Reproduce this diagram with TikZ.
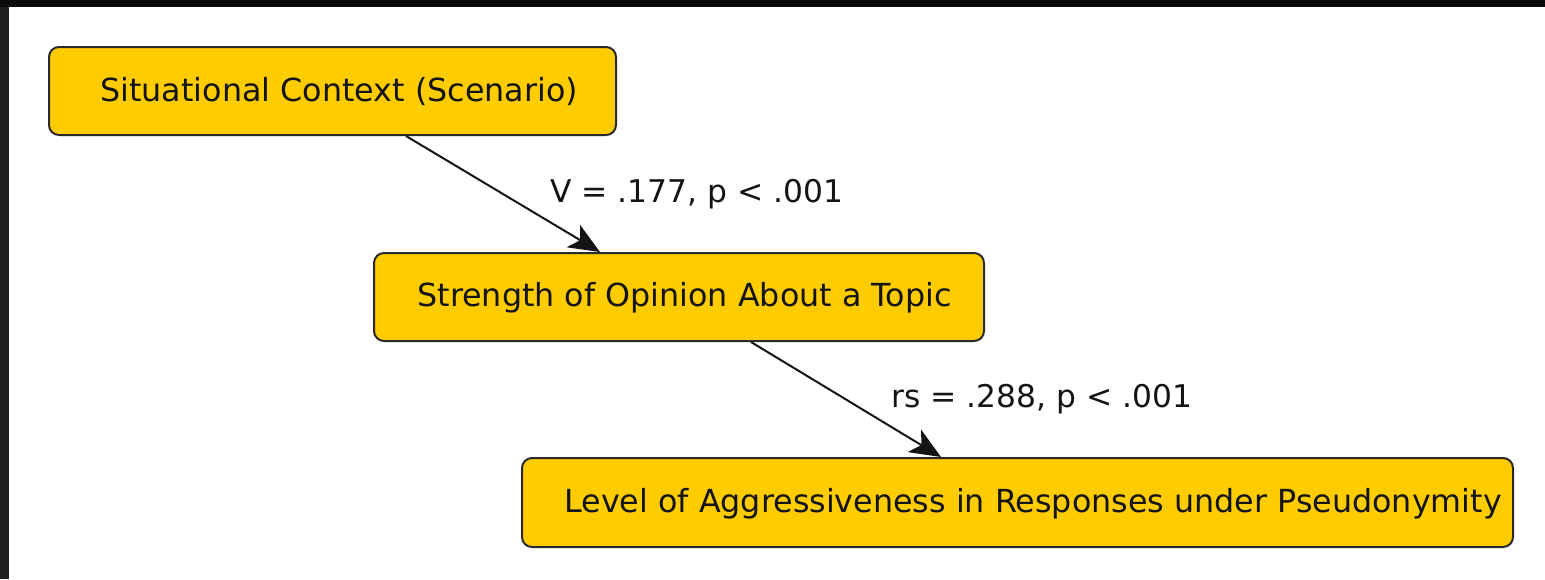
\documentclass[tikz,border=0pt]{standalone}
\usepackage{fontspec}
\setmainfont{DejaVu Sans}
\usetikzlibrary{arrows.meta,calc}
\definecolor{boxfill}{HTML}{FFCC00}
\definecolor{boxline}{HTML}{2A2A2A}
\definecolor{ink}{HTML}{141414}
\definecolor{topband}{HTML}{0A0A0A}
\definecolor{sideband}{HTML}{1E1E1E}
\begin{document}
\begin{tikzpicture}[x=0.5pt,y=-0.5pt,
  stagebox/.style={draw=boxline,line width=1pt,fill=boxfill,rounded corners=5pt,
    rectangle,inner sep=0pt,anchor=north west},
  boxtext/.style={inner sep=0pt,anchor=base west,text=ink,font=\fontsize{15.88pt}{18pt}\selectfont},
  linktext/.style={inner sep=0pt,anchor=base west,text=ink,font=\fontsize{15.65pt}{18pt}\selectfont},
  flow/.style={draw=ink,line width=1pt,-{Stealth[length=15.5pt,width=13pt,inset=4pt]}}
]
% canvas and dark frame edges
\useasboundingbox (0,0) rectangle (1545,579);
\fill[white] (0,0) rectangle (1545,579);
\fill[sideband] (0,0) rectangle (9,579);
\fill[topband] (0,0) rectangle (1545,7);

% stages
\node[stagebox,minimum width=283.5pt,minimum height=44pt] (b1) at (48,46) {};
\node[stagebox,minimum width=305pt,minimum height=44pt] (b2) at (373,252) {};
\node[stagebox,minimum width=495.5pt,minimum height=44.5pt] (b3) at (521,457) {};

\node[boxtext] (t1) at (100,101) {Situational Context (Scenario)};
\node[boxtext] (t2) at (417,306) {Strength of Opinion About a Topic};
\node[boxtext] (t3) at (564,512) {Level of Aggressiveness in Responses under Pseudonymity};

% links between stages
\draw[flow] ([xshift=179pt]b1.south west) -- ([xshift=113.5pt]b2.north west);
\draw[flow] ([xshift=189pt]b2.south west) -- ([xshift=210pt]b3.north west);

\node[linktext] (l1) at (550,202) {V = .177, p < .001};
\node[linktext] (l2) at (891,407) {rs = .288, p < .001};
\end{tikzpicture}
\end{document}
